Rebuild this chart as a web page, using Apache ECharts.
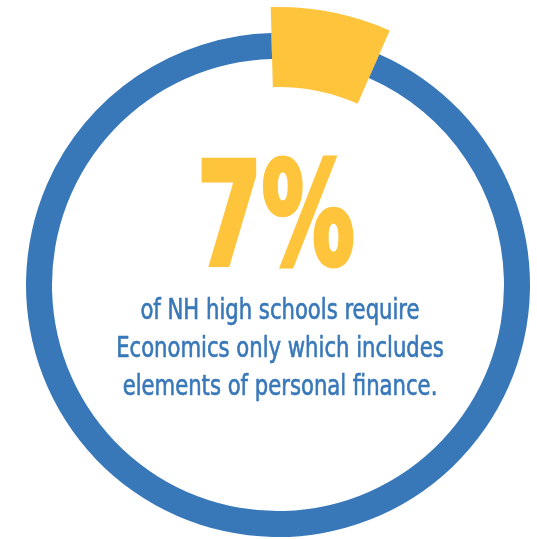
<!DOCTYPE html>
<html>
<head>
<meta charset="utf-8">
<script src="https://cdn.jsdelivr.net/npm/echarts@6/dist/echarts.min.js"></script>
<style>html,body{margin:0;padding:0;background:#fff}#c{width:537px;height:539px}</style>
</head>
<body>
<div id="c"></div>
<script>
var categories = ['Economics only', 'Other'];
var values = [7, 93];
var headline = '7%';
var captionLines = ['of NH high schools require', 'Economics only which includes', 'elements of personal finance.'];

var BLUE = '#3878b9', YELLOW = '#fec53c';
var chart = echarts.init(document.getElementById('c'), null, {renderer: 'canvas'});
var pieData = function (colors) {
  return categories.map(function (c, i) {
    return {name: c, value: values[i], itemStyle: {color: colors[i]}};
  });
};
var graphics = [{
  type: 'text', x: 276, y: 155, scaleX: 0.72,
  style: {text: headline, fill: YELLOW, stroke: YELLOW, lineWidth: 5, font: 'bold 143px "DejaVu Sans Condensed", "DejaVu Sans"', textAlign: 'center', verticalAlign: 'top'}
}];
captionLines.forEach(function (t, i) {
  graphics.push({
    type: 'text', x: 280, y: 298 + i * 38, scaleX: 0.84,
    style: {text: t, fill: BLUE, stroke: BLUE, lineWidth: 0.6, font: '28px "DejaVu Sans Condensed", "DejaVu Sans"', textAlign: 'center', verticalAlign: 'top'}
  });
});
chart.setOption({
  animation: false,
  series: [{
    type: 'pie', center: [278, 285], radius: [226, 252], startAngle: 91.5,
    label: {show: false}, labelLine: {show: false}, silent: true,
    data: pieData([BLUE, BLUE])
  }, {
    type: 'pie', center: [278, 285], radius: [198, 278], startAngle: 91.5,
    label: {show: false}, labelLine: {show: false}, silent: true,
    data: pieData([YELLOW, 'rgba(0,0,0,0)'])
  }],
  graphic: graphics
});
</script>
</body>
</html>
